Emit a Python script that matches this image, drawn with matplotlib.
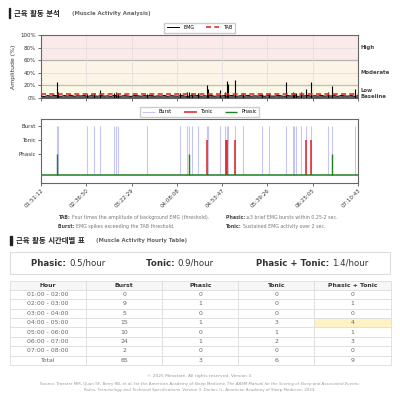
import numpy as np
import pandas as pd
import matplotlib
matplotlib.use('Agg')
import matplotlib.pyplot as plt
import matplotlib.dates as mdates
from matplotlib.patches import Rectangle

plt.rcParams['font.family'] = ['DejaVu Sans', 'Noto Sans CJK KR']

DAY = '2025-01-01 '
start_time = '01:51:12.05'
end_time = '07:10:43.9'

# burst events (time, EMG peak amplitude %)
burst_times = ['02:07:01', '02:08:20', '02:37:16', '02:44:37', '02:50:40',
               '03:05:05', '03:07:06', '03:09:07', '03:38:21',
               '04:11:36', '04:18:03', '04:20:41', '04:23:24', '04:29:27',
               '04:38:49', '04:39:50', '04:51:55', '04:56:40', '04:58:41',
               '04:59:30', '05:06:26', '05:14:48', '05:33:57', '05:40:42',
               '05:58:09', '06:04:54', '06:06:12', '06:08:32', '06:13:16',
               '06:18:36', '06:23:21', '06:40:29', '06:44:31', '07:07:59']
burst_amps = [26, 9, 7, 8, 12,
              8, 9, 8, 7,
              8, 9, 10, 8, 8,
              21, 14, 12, 10, 27,
              23, 28, 8, 7, 8,
              25, 9, 8, 8, 9,
              15, 26, 9, 19, 15]
tonic_times = ['04:38:49', '04:58:10', '04:58:41', '05:06:26', '06:18:36', '06:23:21']
phasic_times = ['02:07:01', '04:20:41', '06:44:31']

# background EMG level (%), read along the night
emg_base = [3.1, 2.4, 3.8, 2.9, 4.2, 3.3, 2.6, 3.9, 3.0, 4.4, 2.7, 3.6, 3.2, 4.0, 2.5, 3.7,
            3.4, 2.8, 4.1, 3.0, 3.5, 2.6, 4.3, 3.1, 2.9, 3.8, 3.3, 2.4, 4.0, 3.6, 2.8, 3.9,
            3.2, 4.5, 2.7, 3.4, 3.0, 4.1, 2.6, 3.7, 3.3, 2.9, 4.2, 3.1, 2.5, 3.8, 3.4, 4.0,
            2.8, 3.6, 3.0, 4.3, 2.7, 3.5, 3.2, 3.9, 2.6, 4.1, 3.3, 2.9, 3.7, 3.0, 4.4, 2.8,
            3.5, 3.1, 4.0, 2.6, 3.8, 3.2, 2.9, 4.2, 3.4, 2.7, 3.9, 3.1, 4.1, 2.5, 3.6, 3.3,
            4.0, 2.8, 3.7, 3.0, 4.3, 2.9, 3.5, 3.2, 3.8, 2.6, 4.1, 3.4, 3.0, 3.9, 2.7, 3.6]
tab_level = 6.0

hours = ['01:00 - 02:00', '02:00 - 03:00', '03:00 - 04:00', '04:00 - 05:00',
         '05:00 - 06:00', '06:00 - 07:00', '07:00 - 08:00', 'Total']
burst_counts = [0, 9, 5, 15, 10, 24, 2, 65]
phasic_counts = [0, 1, 0, 1, 0, 1, 0, 3]
tonic_counts = [0, 0, 0, 3, 1, 2, 0, 6]
pt_counts = [0, 1, 0, 4, 1, 3, 0, 9]
table_cols = ['Hour', 'Burst', 'Phasic', 'Tonic', 'Phasic + Tonic']
rates = [('Phasic:', '0.5/hour'), ('Tonic:', '0.9/hour'), ('Phasic + Tonic:', '1.4/hour')]
notes = [
    [('TAB:', 'Four times the amplitude of background EMG (threshold).'),
     ('Burst:', 'EMG spikes exceeding the TAB threshold.')],
    [('Phasic:', '\u22653 brief EMG bursts within 0.25-2 sec.'),
     ('Tonic:', 'Sustained EMG activity over 2 sec.')],
]


def to_dt(ts):
    return pd.to_datetime([DAY + t for t in ts])


def put_pieces(fig, pieces, x, y, size, color, align='center'):
    # draw a line made of differently styled pieces
    r = fig.canvas.get_renderer()
    texts = []
    for s, props in pieces:
        props = dict(props)
        c = props.pop('color', color)
        texts.append(fig.text(0, y, s, va='center', fontsize=size, color=c, **props))
    widths = [t.get_window_extent(r).width / fig.bbox.width for t in texts]
    x0 = x - sum(widths) / 2 if align == 'center' else x
    for t, w in zip(texts, widths):
        t.set_x(x0)
        x0 += w


def px(x0, y0, x1, y1):
    W, H = 400, 412
    return [x0 / W, 1 - y1 / H, (x1 - x0) / W, (y1 - y0) / H]


fig = plt.figure(figsize=(4, 4.12), dpi=100)
t0, t1 = to_dt([start_time, end_time])
ticks = pd.date_range(t0, t1, periods=8)

# ---- section title 1 ----
fig.patches.append(Rectangle((8.5 / 400, 1 - 18 / 412), 1.8 / 400, 10 / 412,
                             transform=fig.transFigure, color='#222', figure=fig))
fig.text(14 / 400, 1 - 13 / 412, '근육 활동 분석', fontsize=5.3, weight='bold', va='center', color='#222')
fig.text(72 / 400, 1 - 13.5 / 412, '(Muscle Activity Analysis)', fontsize=3.9, weight='bold',
         va='center', color='#666')

# ---- EMG amplitude panel ----
ax1 = fig.add_axes(px(41, 35, 358, 98))
ax1.axhspan(60, 100, color='#fbeaea', zorder=0)
ax1.axhspan(20, 60, color='#fcf4e6', zorder=0)
ax1.axhspan(0, 20, color='#fbf8e6', zorder=0)
ax1.axhline(60, color='#555', lw=0.8, zorder=1)
ax1.axhline(20, color='#777', lw=0.8, zorder=1)
base_t = pd.date_range(t0, t1, periods=len(emg_base))
ax1.fill_between(base_t, 0, emg_base, color='#555', lw=0, zorder=2)
ax1.plot(base_t, emg_base, color='black', lw=0.7, label='EMG', zorder=3)
ax1.vlines(to_dt(burst_times), 0, burst_amps, color='black', lw=0.8, zorder=3)
ax1.axhline(tab_level, color='#e03030', lw=1.2, ls=(0, (3, 2)), label='TAB', zorder=4)
ax1.set_ylim(0, 100)
ax1.set_xlim(t0, t1)
ax1.set_yticks([0, 20, 40, 60, 80, 100])
ax1.set_yticklabels(['0%', '20%', '40%', '60%', '80%', '100%'])
ax1.set_xticks(ticks)
ax1.set_xticklabels([])
ax1.grid(True, color='#ddd', lw=0.5, zorder=0)
ax1.tick_params(labelsize=4, length=2, width=0.5, pad=1.5, colors='#333')
ax1.set_ylabel('Amplitude (%)', fontsize=4.4, labelpad=3, color='#333')
for s in ax1.spines.values():
    s.set_color('#666')
    s.set_linewidth(0.8)
for yv, lab in [(80, 'High'), (40, 'Moderate'), (12.5, 'Low'), (2, 'Baseline')]:
    ax1.text(1.008, yv / 100, lab, transform=ax1.transAxes, fontsize=3.9, weight='bold',
             color='#444', va='center')
ax1.legend(loc='lower center', bbox_to_anchor=(0.5, 1.0), ncol=2, fontsize=3.5, frameon=True,
           handlelength=2.6, columnspacing=2.5, borderpad=0.5, edgecolor='#ccc', fancybox=False,
           framealpha=1)

# ---- event panel ----
ax2 = fig.add_axes(px(41, 119.3, 358, 182.5))
lvl_burst, lvl_tonic, lvl_phasic = 3.5, 2.5, 1.5
ax2.vlines(to_dt(burst_times), 0, lvl_burst, color='#8080f0', alpha=0.45, lw=0.8, label='Burst')
ax2.vlines(to_dt(tonic_times), 0, lvl_tonic, color='#e02020', lw=1.1, label='Tonic')
ax2.vlines(to_dt(phasic_times), 0, lvl_phasic, color='#208020', lw=1.0, label='Phasic')
ax2.plot([t0, t1], [0, 0], color='#208020', lw=1.1)
ax2.set_ylim(-0.5, 4.0)
ax2.set_xlim(t0, t1)
ax2.set_yticks([lvl_burst, lvl_tonic, lvl_phasic])
ax2.set_yticklabels(['Burst', 'Tonic', 'Phasic'])
ax2.set_xticks(ticks)
ax2.set_xticklabels([t.strftime('%H:%M:%S') for t in ticks], rotation=45, ha='right',
                    rotation_mode='anchor')
ax2.tick_params(labelsize=4, length=2, width=0.5, pad=1.5, colors='#333')
for s in ax2.spines.values():
    s.set_color('#666')
    s.set_linewidth(0.8)
ax2.legend(loc='lower center', bbox_to_anchor=(0.5, 1.0), ncol=3, fontsize=3.5, frameon=True,
           handlelength=2.6, columnspacing=2.5, borderpad=0.5, edgecolor='#ccc', fancybox=False,
           framealpha=1)

# ---- notes ----
for col, nx in zip(notes, [58, 225.5]):
    for (lab, txt), ny in zip(col, [217.3, 226.7]):
        put_pieces(fig, [(lab + ' ', dict(weight='bold', color='#444')), (txt, {})],
                   nx / 400, 1 - ny / 412, 3.4, '#777', align='left')

# ---- section title 2 ----
fig.patches.append(Rectangle((10 / 400, 1 - 245 / 412), 1.8 / 400, 9 / 412,
                             transform=fig.transFigure, color='#222', figure=fig))
fig.text(16.5 / 400, 1 - 240.7 / 412, '근육 활동 시간대별 표', fontsize=5.3, weight='bold',
         va='center', color='#222')
fig.text(96.5 / 400, 1 - 241 / 412, '(Muscle Activity Hourly Table)', fontsize=3.9, weight='bold',
         va='center', color='#666')

# ---- summary box ----
fig.patches.append(Rectangle((10 / 400, 1 - 274 / 412), 380 / 400, 22 / 412,
                             transform=fig.transFigure, facecolor='white', edgecolor='#ddd',
                             lw=0.8, figure=fig))
for (lab, val), cx in zip(rates, [68.5, 180, 312.5]):
    put_pieces(fig, [(lab + ' ', dict(weight='bold')), (val, {})], cx / 400, 1 - 263.3 / 412,
               6.2, '#333')

# ---- hourly table ----
ax3 = fig.add_axes(px(10, 280.5, 390.5, 365))
ax3.axis('off')
cells = [[h, str(b), str(p), str(t), str(pt)] for h, b, p, t, pt in
         zip(hours, burst_counts, phasic_counts, tonic_counts, pt_counts)]
tbl = ax3.table(cellText=cells, colLabels=table_cols, cellLoc='center', bbox=[0, 0, 1, 1])
tbl.auto_set_font_size(False)
tbl.set_fontsize(4.4)
for (r, c), cell in tbl.get_celld().items():
    cell.set_edgecolor('#dddddd')
    cell.set_linewidth(0.6)
    if r == 0:
        cell.set_facecolor('#f7f7f7')
        cell.get_text().set_weight('bold')
        cell.get_text().set_color('#333')
    else:
        cell.get_text().set_color('#666')
    if r == 4 and c == 4:
        cell.set_facecolor('#fff3c4')

# ---- footer ----
fig.text(0.5, 1 - 375.7 / 412, '\u00a9 2025 Miraclare. All rights reserved. Version 3.',
         ha='center', va='center', fontsize=3.2, color='#999')
put_pieces(fig, [('Source: Troester MM, Quan SF, Berry RB, et al; for the American Academy of Sleep Medicine. ', {}),
                 ('The AASM Manual for the Scoring of Sleep and Associated Events:', dict(style='italic'))],
           0.5, 1 - 384 / 412, 2.9, '#999')
put_pieces(fig, [('Rules, Terminology and Technical Specifications.', dict(style='italic')),
                 (' Version 3. Darien, IL: American Academy of Sleep Medicine; 2023.', {})],
           0.5, 1 - 390.5 / 412, 2.9, '#999')

fig.savefig('out.png', dpi=100)
